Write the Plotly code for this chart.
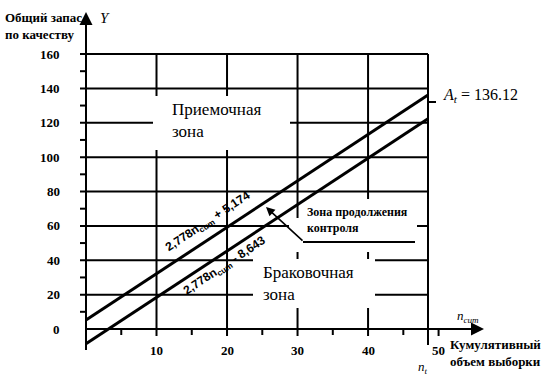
import plotly.graph_objects as go

# ---------------- data ----------------
x_major = [10, 20, 30, 40]
x_minor = [5, 15, 25, 35, 45]
x_labels = ["10", "20", "30", "40", "50"]
x_label_vals = [10, 20, 30, 40, 50]
y_major = [20, 40, 60, 80, 100, 120, 140, 160]
y_minor = [10, 30, 50, 70, 90, 110, 130, 150]
y_labels = ["0", "20", "40", "60", "80", "100", "120", "140", "160"]
y_label_vals = [0, 20, 40, 60, 80, 100, 120, 140, 160]
n_t = 48.5
A_t = 136.12
line_x = [0, n_t]
upper_y = [5.174, A_t]
lower_y = [-8.643, 122.3]

# ---------------- pixel <-> data helpers (layout only) ----------------
W, H = 546, 377
X0, Y0 = 86.0, 329.0
SX, SY = 7.0515, 1.71875


def dx(p):
    return (p - X0) / SX


def dy(p):
    return (Y0 - p) / SY


def px(p):
    return p / W


def py(p):
    return 1 - p / H


fig = go.Figure()
shapes = []
GRID = dict(color="black", width=2)

for v in y_major:
    shapes.append(dict(type="line", xref="x", yref="y", x0=dx(80), x1=n_t, y0=v, y1=v,
                       line=GRID, layer="below"))
for v in x_major:
    shapes.append(dict(type="line", xref="x", yref="y", x0=v, x1=v, y0=dy(336), y1=160,
                       line=GRID, layer="below"))
shapes.append(dict(type="line", xref="x", yref="y", x0=n_t, x1=n_t, y0=dy(345), y1=160,
                   line=GRID, layer="below"))
shapes.append(dict(type="line", xref="x", yref="y", x0=50, x1=50, y0=0, y1=dy(336),
                   line=GRID, layer="below"))
for v in x_minor:
    shapes.append(dict(type="line", xref="x", yref="y", x0=v, x1=v, y0=0, y1=dy(335),
                       line=GRID, layer="below"))
for v in y_minor:
    shapes.append(dict(type="line", xref="x", yref="y", x0=dx(80), x1=0, y0=v, y1=v,
                       line=GRID, layer="below"))
shapes.append(dict(type="line", xref="x", yref="y", x0=n_t, x1=dx(436), y0=dy(102), y1=dy(102),
                   line=GRID, layer="below"))


def gap(x0, x1, y0, y1):
    shapes.append(dict(type="rect", xref="x", yref="y", x0=dx(x0), x1=dx(x1), y0=dy(y0), y1=dy(y1),
                       line=dict(width=0), fillcolor="white", layer="below"))


gap(153, 290, 96, 150)     # Приемочная зона
gap(300, 417, 199, 252)    # Зона продолжения контроля
gap(289, 301, 218, 252)
gap(253, 375, 259, 308)    # Браковочная зона

shapes.append(dict(type="line", xref="x", yref="y", x0=dx(303), x1=dx(415), y0=dy(242), y1=dy(242),
                   line=GRID, layer="below"))
shapes.append(dict(type="line", xref="x", yref="y", x0=0, x1=0, y0=dy(350), y1=dy(20),
                   line=GRID, layer="below"))
shapes.append(dict(type="line", xref="x", yref="y", x0=0, x1=dx(474), y0=0, y1=0,
                   line=GRID, layer="below"))

fig.add_trace(go.Scatter(x=line_x, y=upper_y, mode="lines",
                         line=dict(color="black", width=3), hoverinfo="skip"))
fig.add_trace(go.Scatter(x=line_x, y=lower_y, mode="lines",
                         line=dict(color="black", width=3), hoverinfo="skip"))

ann = []
SERIF = "Liberation Serif"
SANS = "Liberation Sans"

ann.append(dict(x=0, y=dy(12), ax=0, ay=dy(24), xref="x", yref="y", axref="x", ayref="y",
                text="", showarrow=True, arrowhead=2, arrowsize=1.3, arrowwidth=2, arrowcolor="black"))
ann.append(dict(x=dx(484), y=0, ax=dx(470), ay=0, xref="x", yref="y", axref="x", ayref="y",
                text="", showarrow=True, arrowhead=2, arrowsize=1.3, arrowwidth=2, arrowcolor="black"))
ann.append(dict(x=dx(266), y=dy(207), ax=dx(304), ay=dy(242), xref="x", yref="y", axref="x", ayref="y",
                text="", showarrow=True, arrowhead=2, arrowsize=1.1, arrowwidth=1.6, arrowcolor="black"))


def label(xp, yp, text, size, xanchor="left", family=SERIF, angle=0, align="left"):
    ann.append(dict(x=px(xp), y=py(yp), xref="paper", yref="paper", text=text, showarrow=False,
                    xanchor=xanchor, yanchor="middle", align=align, textangle=angle,
                    font=dict(family=family, size=size, color="black")))


for v, t in zip(y_label_vals, y_labels):
    ann.append(dict(x=px(62), y=v, xref="paper", yref="y", text="<b>" + t + "</b>", showarrow=False,
                    xanchor="right", yanchor="middle", font=dict(family=SERIF, size=13, color="black")))
for v, t in zip(x_label_vals, x_labels):
    ann.append(dict(x=v, y=py(350), xref="x", yref="paper", text="<b>" + t + "</b>", showarrow=False,
                    xanchor="center", yanchor="middle", font=dict(family=SERIF, size=13, color="black")))

label(3, 26, "<b>Общий запас<br>по качеству</b>", 13)
label(98, 18, "<i>Y</i>", 15)
label(448, 353, "<b>Кумулятивный<br>объем выборки</b>", 13)
label(455, 316, "<i>n</i><sub><i>cum</i></sub>", 13)
label(416, 367, "<i>n</i><sub><i>t</i></sub>", 13)
label(441, 95, "<i>A</i><sub><i>t</i></sub> = " + f"{A_t:.2f}", 16)
label(170, 121, "Приемочная<br>зона", 17)
label(261, 283, "Браковочная<br>зона", 17)
label(305, 220, "<b>Зона продолжения<br>контроля</b>", 12)
label(208, 222, "<b>2,778n<sub>cum</sub> + 5,174</b>", 12, xanchor="center", family=SANS, angle=-33.5)
label(225, 266, "<b>2,778n<sub>cum</sub> - 8,643</b>", 12, xanchor="center", family=SANS, angle=-33.5)

fig.update_layout(
    width=W, height=H, margin=dict(l=0, r=0, t=0, b=0),
    paper_bgcolor="white", plot_bgcolor="white", showlegend=False,
    xaxis=dict(visible=False, range=[dx(0), dx(W)], fixedrange=True),
    yaxis=dict(visible=False, range=[dy(H), dy(0)], fixedrange=True),
    shapes=shapes, annotations=ann,
)

fig.write_html("out.html", config={"displayModeBar": False},
               post_script="document.body.style.margin='0';document.body.style.overflow='hidden';")
